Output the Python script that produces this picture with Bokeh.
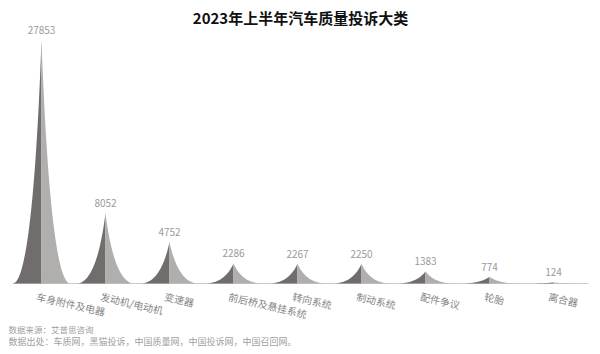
import numpy as np
from bokeh.plotting import figure
from bokeh.models import Label, Range1d, ColumnDataSource
from bokeh.core.properties import value
from bokeh.embed import file_html
from bokeh.resources import INLINE

categories = ["车身附件及电器", "发动机/电动机", "变速器", "前后桥及悬挂系统",
              "转向系统", "制动系统", "配件争议", "轮胎", "离合器"]
values = [27853, 8052, 4752, 2286, 2267, 2250, 1383, 774, 124]
title_text = "2023年上半年汽车质量投诉大类"
footer_lines = ["数据来源：艾普思咨询",
                "数据出处：车质网，黑猫投诉，中国质量网，中国投诉网，中国召回网。"]

FONT = "Noto Sans CJK SC"
DARK = "#716d6d"
LIGHT = "#b0afae"
HALF_W = 0.45

W, H = 600, 354
PX_X = 64.0                 # pixels per category
X0_PX = 41.0                # pixel of first category
BASE_PX = 283.0             # baseline pixel from top
PX_PER_VAL = 244.0 / 27853  # vertical scale

x_start = -X0_PX / PX_X
x_end = x_start + W / PX_X
y_end = BASE_PX / PX_PER_VAL
y_start = -(H - BASE_PX) / PX_PER_VAL

t = np.linspace(0, 1, 40)
P = [(1.0, 0.0), (0.45, 0.0), (0.15, 0.5), (0.0, 1.0)]
bx = ((1 - t) ** 3 * P[0][0] + 3 * (1 - t) ** 2 * t * P[1][0]
      + 3 * (1 - t) * t ** 2 * P[2][0] + t ** 3 * P[3][0])
by = ((1 - t) ** 3 * P[0][1] + 3 * (1 - t) ** 2 * t * P[1][1]
      + 3 * (1 - t) * t ** 2 * P[2][1] + t ** 3 * P[3][1])

left_xs, left_ys, right_xs, right_ys = [], [], [], []
for i, v in enumerate(values):
    right_xs.append(list(i + bx * HALF_W) + [i])
    right_ys.append(list(by * v) + [0])
    left_xs.append(list(i - bx * HALF_W) + [i])
    left_ys.append(list(by * v) + [0])

p = figure(width=W, height=H, output_backend="svg", toolbar_location=None,
           x_range=Range1d(x_start, x_end), y_range=Range1d(y_start, y_end),
           min_border=0, min_border_left=0, min_border_right=0,
           min_border_top=0, min_border_bottom=0)
p.outline_line_color = None
p.xgrid.visible = False
p.ygrid.visible = False
p.xaxis.visible = False
p.yaxis.visible = False
p.background_fill_color = "white"
p.border_fill_color = "white"

# baseline (category axis line)
p.segment(x0=[-0.45], y0=[0], x1=[len(categories) - 1 + 0.55], y1=[0],
          line_color="#cccccc", line_width=1)

p.patches(left_xs, left_ys, fill_color=DARK, line_color=None)
p.patches(right_xs, right_ys, fill_color=LIGHT, line_color=None)

src = ColumnDataSource(dict(x=list(range(len(values))), y=values,
                            t=[str(v) for v in values],
                            z=[0] * len(values), c=categories))
p.text(x="x", y="y", text="t", source=src, text_align="center",
       text_baseline="bottom", y_offset=-6, text_font=value(FONT),
       text_font_size="10px", text_color="#9a9a9a")

# category labels
p.text(x="x", y="z", text="c", source=src, angle=-0.23, text_align="left",
       text_baseline="top", x_offset=-3, y_offset=5, text_font=value(FONT),
       text_font_size="10px", text_color="#858585")

p.add_layout(Label(x=300, y=H - 17, x_units="screen", y_units="screen",
                   text=title_text, text_align="center", text_baseline="middle",
                   text_font=FONT, text_font_size="15px", text_font_style="bold",
                   text_color="#111111"))
p.add_layout(Label(x=8, y=H - 328, x_units="screen", y_units="screen",
                   text=footer_lines[0], text_align="left", text_baseline="middle",
                   text_font=FONT, text_font_size="8.5px", text_color="#a0a0a0"))
p.add_layout(Label(x=8, y=H - 341, x_units="screen", y_units="screen",
                   text=footer_lines[1], text_align="left", text_baseline="middle",
                   text_font=FONT, text_font_size="9px", text_color="#a0a0a0"))

open("out.html", "w").write(file_html(p, INLINE))
